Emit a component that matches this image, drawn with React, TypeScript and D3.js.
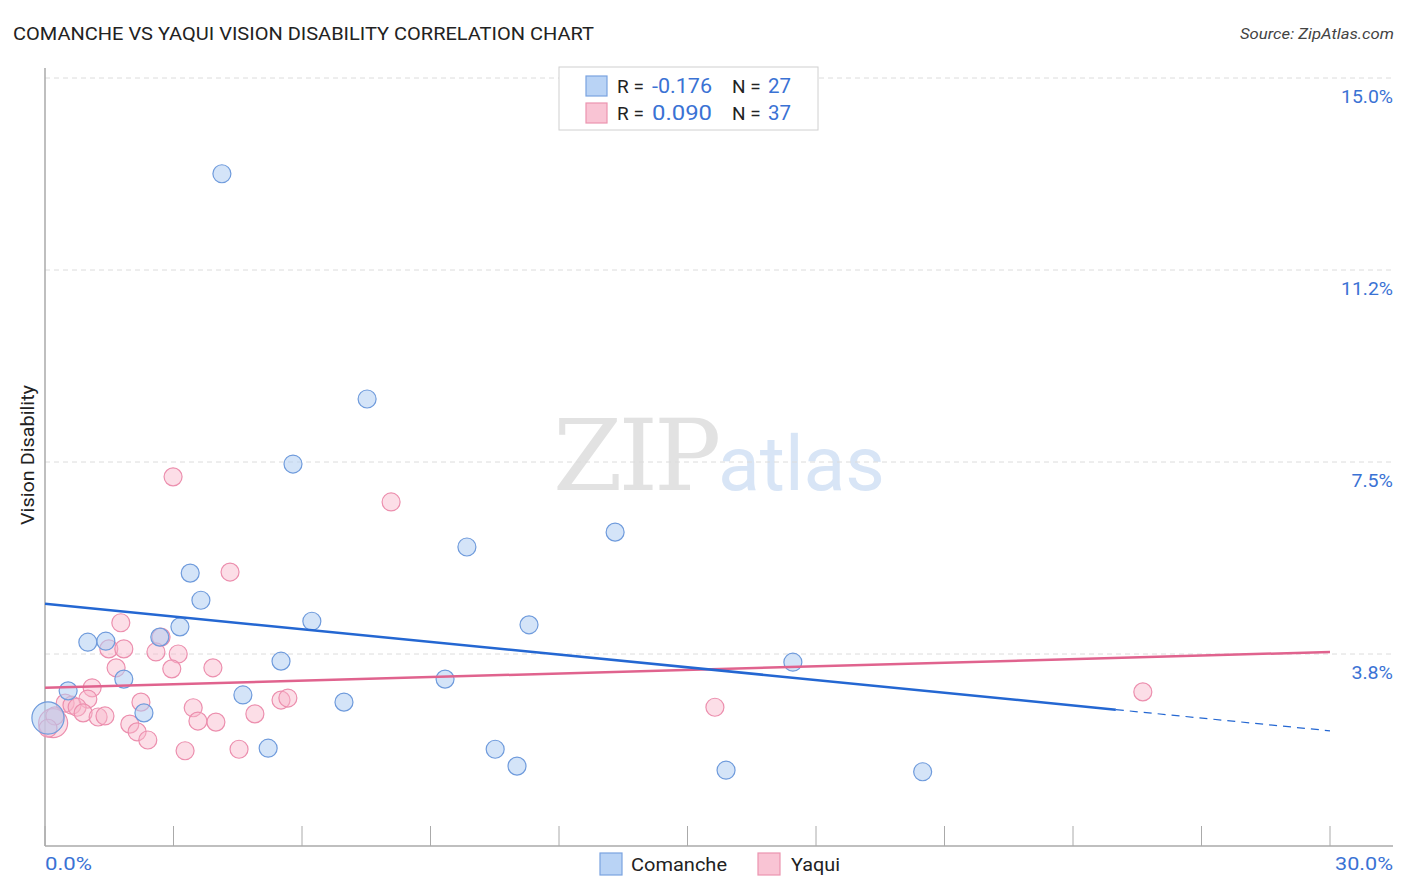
import React from "react";
import * as d3 from "d3";

const comancheX = [4.13, 7.52, 5.79, 9.85, 13.31, 3.39, 3.64, 6.23, 11.3, 3.15, 2.68, 1.0, 1.42, 5.51, 17.46, 1.84, 9.34, 0.54, 4.62, 6.98, 2.31, 0.07, 5.21, 10.51, 11.02, 15.9, 20.49];
const comancheY = [13.13, 8.73, 7.46, 5.84, 6.13, 5.33, 4.8, 4.39, 4.32, 4.28, 4.08, 3.98, 4.0, 3.61, 3.59, 3.26, 3.26, 3.03, 2.95, 2.81, 2.6, 2.5, 1.91, 1.89, 1.56, 1.48, 1.45];
const comancheW = [1, 1, 1, 1, 1, 1, 1, 1, 1, 1, 1, 1, 1, 1, 1, 1, 1, 1, 1, 1, 1, 3.2, 1, 1, 1, 1, 1];

const yaquiX = [2.99, 8.08, 4.32, 15.64, 25.63, 1.77, 1.49, 1.84, 2.71, 2.59, 3.11, 1.66, 2.96, 3.92, 1.1, 1.0, 0.47, 0.63, 0.75, 0.89, 1.24, 1.4, 2.24, 1.98, 2.15, 2.4, 3.46, 3.57, 3.99, 4.9, 5.51, 5.67, 3.27, 4.53, 0.19, 0.23, 0.07];
const yaquiY = [7.21, 6.72, 5.35, 2.71, 3.01, 4.36, 3.85, 3.85, 4.08, 3.79, 3.75, 3.48, 3.46, 3.48, 3.09, 2.87, 2.79, 2.75, 2.71, 2.6, 2.52, 2.54, 2.81, 2.38, 2.23, 2.07, 2.7, 2.44, 2.42, 2.58, 2.85, 2.89, 1.86, 1.89, 2.4, 2.54, 2.3];
const yaquiW = [1, 1, 1, 1, 1, 1, 1, 1, 1, 1, 1, 1, 1, 1, 1, 1, 1, 1, 1, 1, 1, 1, 1, 1, 1, 1, 1, 1, 1, 1, 1, 1, 1, 1, 2.6, 1, 1];

const yTicks = [3.75, 7.5, 11.25, 15];
const yTickLabels = ["3.8%", "7.5%", "11.2%", "15.0%"];
const xTicks = [0, 3, 6, 9, 12, 15, 18, 21, 24, 27, 30];

const comancheLine = { y0: 4.73, y1: 2.25, solidEnd: 25 };
const yaquiLine = { y0: 3.09, y1: 3.79 };

const legendRows = [
  { r: "-0.176", n: "27", fill: "#b9d3f5", stroke: "#7aa3e0" },
  { r: "0.090", n: "37", fill: "#f9c4d4", stroke: "#eb94b0" },
];

export default function App() {
  const W = 1406, H = 892;
  const left = 45, right = 1393;
  const x = d3.scaleLinear().domain([0, 30]).range([45, 1330]);
  const y = d3.scaleLinear().domain([0, 15]).range([846, 78]);
  const r = d3.scaleSqrt().domain([0, 1]).range([0, 9]);

  const blueFill = "rgba(176,206,243,0.55)";
  const blueStroke = "#6f9bdc";
  const pinkFill = "rgba(248,182,202,0.45)";
  const pinkStroke = "#ec8fae";
  const font = "Roboto, 'Noto Sans', sans-serif";
  const tickBlue = "#3a72d4";

  const blueSolidEndY = comancheLine.y0 + (comancheLine.y1 - comancheLine.y0) * (comancheLine.solidEnd / 30);

  return (
    <svg width={W} height={H} style={{ display: "block", position: "absolute", left: 0, top: 0 }} fontFamily={font}>
      <rect width={W} height={H} fill="#fff" />
      <text x={13} y={40} fontSize={18} fill="#222" textLength={581} lengthAdjust="spacingAndGlyphs">COMANCHE VS YAQUI VISION DISABILITY CORRELATION CHART</text>
      <text x={1394} y={39} fontSize={15} fill="#444" fontStyle="italic" textAnchor="end" textLength={154} lengthAdjust="spacingAndGlyphs">Source: ZipAtlas.com</text>

      {/* watermark */}
      <text x={553} y={490} fontSize={100} fill="#e2e2e2" fontFamily="'DejaVu Serif', 'Liberation Serif', serif" letterSpacing={-4}>ZIP</text>
      <text x={718} y={490} fontSize={76} fill="#d8e5f6" fontFamily={font} textLength={167} lengthAdjust="spacingAndGlyphs">atlas</text>

      {/* grid */}
      {yTicks.map((t, i) => (
        <g key={i}>
          <line x1={left} x2={right} y1={y(t)} y2={y(t)} stroke="#dcdcdc" strokeDasharray="5,4" strokeWidth={1} />
          <text x={1393} y={y(t) + 25} fontSize={18} fill={tickBlue} textAnchor="end" textLength={yTickLabels[i].length * 10.4} lengthAdjust="spacingAndGlyphs">{yTickLabels[i]}</text>
        </g>
      ))}

      {/* axes */}
      <line x1={left} x2={left} y1={68} y2={846} stroke="#aaa" strokeWidth={1.5} />
      <line x1={left} x2={right} y1={846} y2={846} stroke="#aaa" strokeWidth={1.5} />
      {xTicks.map((t, i) => (
        <line key={i} x1={x(t)} x2={x(t)} y1={826} y2={846} stroke="#aaa" strokeWidth={1} />
      ))}
      <text x={45} y={870} fontSize={18} fill={tickBlue} textLength={47} lengthAdjust="spacingAndGlyphs">0.0%</text>
      <text x={1393} y={870} fontSize={18} fill={tickBlue} textAnchor="end" textLength={58} lengthAdjust="spacingAndGlyphs">30.0%</text>

      <text transform="translate(34,455) rotate(-90)" fontSize={18} fill="#222" textAnchor="middle" textLength={140} lengthAdjust="spacingAndGlyphs">Vision Disability</text>

      {/* points */}
      {yaquiX.map((v, i) => (
        <circle key={"y" + i} cx={x(v)} cy={y(yaquiY[i])} r={r(yaquiW[i])} fill={pinkFill} stroke={pinkStroke} strokeWidth={1.2} />
      ))}
      {comancheX.map((v, i) => (
        <circle key={"c" + i} cx={x(v)} cy={y(comancheY[i])} r={r(comancheW[i])} fill={blueFill} stroke={blueStroke} strokeWidth={1.2} />
      ))}

      {/* regression lines */}
      <line x1={x(0)} y1={y(yaquiLine.y0)} x2={x(30)} y2={y(yaquiLine.y1)} stroke="#e0638e" strokeWidth={2.5} />
      <line x1={x(0)} y1={y(comancheLine.y0)} x2={x(comancheLine.solidEnd)} y2={y(blueSolidEndY)} stroke="#2467d2" strokeWidth={2.5} />
      <line x1={x(comancheLine.solidEnd)} y1={y(blueSolidEndY)} x2={x(30)} y2={y(comancheLine.y1)} stroke="#2467d2" strokeWidth={1.2} strokeDasharray="8,6" />

      {/* legend box */}
      <rect x={559} y={67} width={259} height={63} fill="#fff" stroke="#d0d0d0" strokeWidth={1} />
      {legendRows.map((row, i) => (
        <g key={i} transform={`translate(0,${86 + i * 27})`}>
          <rect x={586} y={-10} width={21} height={20} fill={row.fill} stroke={row.stroke} strokeWidth={1.2} />
          <text x={617} y={7} fontSize={19} fill="#222">R = </text>
          <text x={652} y={7} fontSize={20} fill={tickBlue} textLength={60} lengthAdjust="spacingAndGlyphs">{row.r}</text>
          <text x={732} y={7} fontSize={19} fill="#222">N = </text>
          <text x={768} y={7} fontSize={20} fill={tickBlue} textLength={23} lengthAdjust="spacingAndGlyphs">{row.n}</text>
        </g>
      ))}

      {/* bottom legend */}
      <rect x={600} y={853} width={22} height={22} fill="#b9d3f5" stroke="#7aa3e0" strokeWidth={1.2} />
      <text x={631} y={871} fontSize={19} fill="#222" textLength={96} lengthAdjust="spacingAndGlyphs">Comanche</text>
      <rect x={758} y={853} width={22} height={22} fill="#f9c4d4" stroke="#eb94b0" strokeWidth={1.2} />
      <text x={791} y={871} fontSize={19} fill="#222" textLength={49} lengthAdjust="spacingAndGlyphs">Yaqui</text>
    </svg>
  );
}
